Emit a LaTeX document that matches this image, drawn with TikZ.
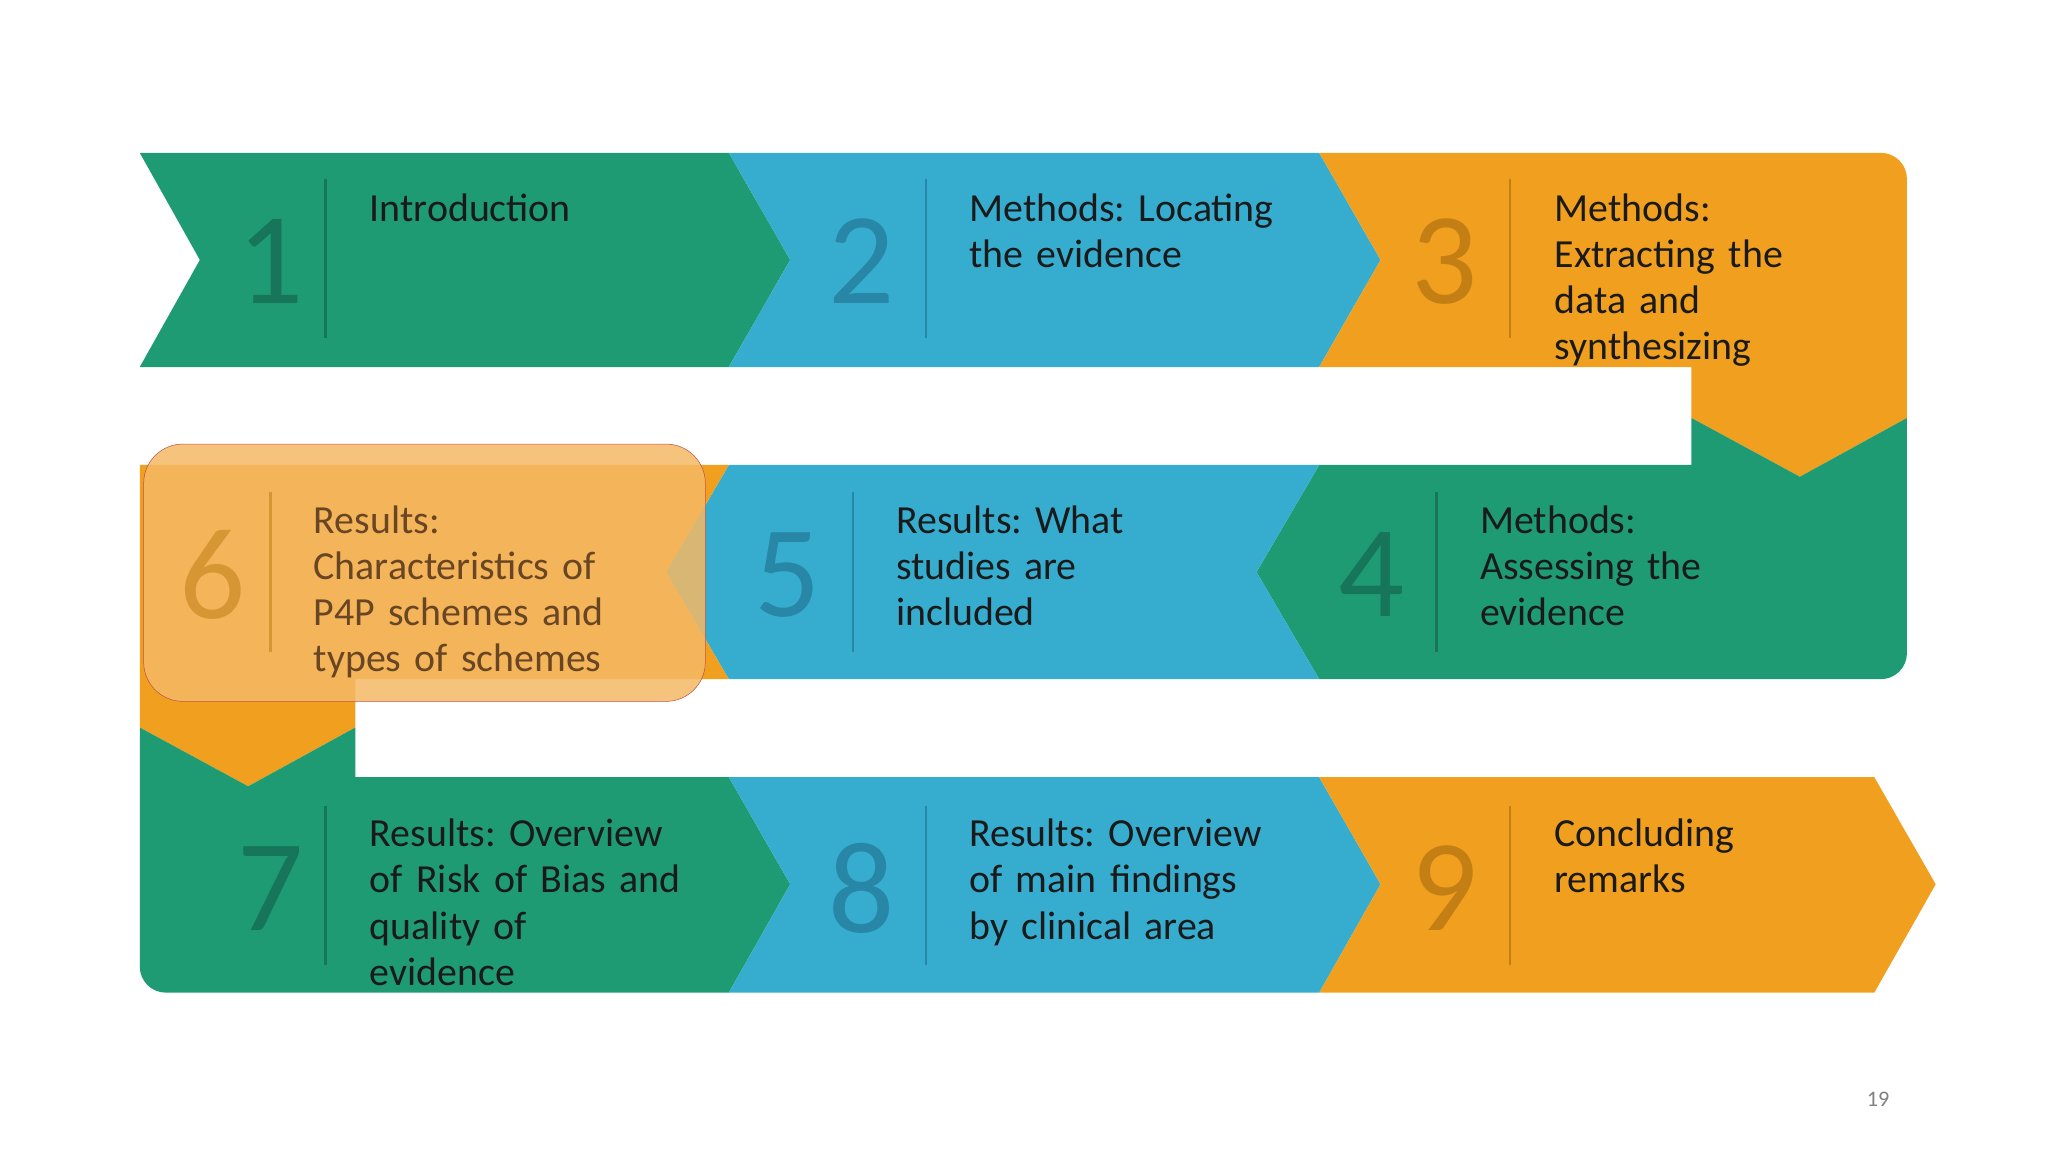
\documentclass[tikz,border=0pt]{standalone}
\usepackage{fontspec}
\setmainfont{Carlito}
\frenchspacing
\definecolor{cg}{HTML}{1F9B74}
\definecolor{cb}{HTML}{36ADCF}
\definecolor{co}{HTML}{F0A01E}
\definecolor{ng}{HTML}{17755A}
\definecolor{nb}{HTML}{2886A6}
\definecolor{no}{HTML}{C47F14}
\definecolor{hl}{HTML}{F5B865}
\definecolor{hb}{HTML}{C0504D}
\definecolor{tx}{HTML}{1A1A1A}
\tikzset{
 num/.style={font=\fontsize{100}{100}\selectfont},
 lbl/.style={anchor=north west,align=left,text width=280pt,inner sep=0pt,text=tx,font=\fontsize{30.5}{35.3}\selectfont},
}
\begin{document}
\begin{tikzpicture}[x=1pt,y=-1pt]
\useasboundingbox (0,0) rectangle (1568,882);
% row 1
\fill[cg] (107,117)--(558,117)--(605,199)--(558,281)--(107,281)--(153,199)--cycle;
\fill[cb] (558,117)--(1010,117)--(1057,199)--(1010,281)--(558,281)--(605,199)--cycle;
\fill[co] (1010,117)[rounded corners=20pt]--(1460,117)[sharp corners]--(1460,320)--(1378,365)--(1295,320)--(1295,281)--(1010,281)--(1057,199)--cycle;
% row 2
\fill[cg] (1010,356)--(1295,356)--(1295,320)--(1378,365)--(1460,320)[rounded corners=20pt]--(1460,520)[sharp corners]--(1010,520)--(962,438)--cycle;
\fill[cb] (558,356)--(1010,356)--(962,438)--(1010,520)--(558,520)--(510,438)--cycle;
\fill[co] (107,356)--(558,356)--(510,438)--(558,520)--(272,520)--(272,557)--(190,602)--(107,557)--cycle;
% row 3
\fill[cg] (107,557)--(190,602)--(272,557)--(272,595)--(558,595)--(605,677)--(558,760)[rounded corners=20pt]--(107,760)[sharp corners]--cycle;
\fill[cb] (558,595)--(1010,595)--(1057,677)--(1010,760)--(558,760)--(605,677)--cycle;
\fill[co] (1010,595)--(1435,595)--(1482,677)--(1435,760)--(1010,760)--(1057,677)--cycle;
% highlight
\draw[hb,fill=hl,fill opacity=0.85,rounded corners=30pt] (110,340) rectangle (540,537);
% numbers, lines, labels
\foreach \n/\x/\y/\c in {1/207/200/ng,2/660/200/nb,3/1106/200/no,5/603/440/nb,4/1050/440/ng,7/207/680/ng,8/660/680/nb,9/1106/680/no}
 {\node[num,text=\c] (n\n) at (\x,\y) {\n};}
\node[num,text=no!60!hl] (n6) at (163,440) {6};
\foreach \x/\y/\c in {249/137/ng,709/137/nb,1156/137/no,653/377/nb,1100/377/ng,249/617/ng,709/617/nb,1156/617/no}
 {\draw[\c,line width=2pt] (\x,\y)--(\x,\y+122);}
\draw[no!60!hl,line width=2pt] (207,377)--(207,499);
\node[lbl] (t1) at (283,148) {Introduction};
\node[lbl] (t2) at (742,148) {Methods: Locating\\the evidence};
\node[lbl] (t3) at (1190,148) {Methods:\\Extracting the\\data and\\synthesizing};
\node[lbl,text=black!45!brown] (t6) at (240,387) {Results:\\Characteristics of\\P4P schemes and\\types of schemes};
\node[lbl] (t5) at (686,387) {Results: What\\studies are\\included};
\node[lbl] (t4) at (1133,387) {Methods:\\Assessing the\\evidence};
\node[lbl] (t7) at (283,627) {Results: Overview\\of Risk of Bias and\\quality of\\evidence};
\node[lbl] (t8) at (742,627) {Results: Overview\\of main findings\\by clinical area};
\node[lbl] (t9) at (1190,627) {Concluding\\remarks};
\node[text=gray,font=\fontsize{17}{20}\selectfont] (pg) at (1438,842) {19};
\end{tikzpicture}
\end{document}
